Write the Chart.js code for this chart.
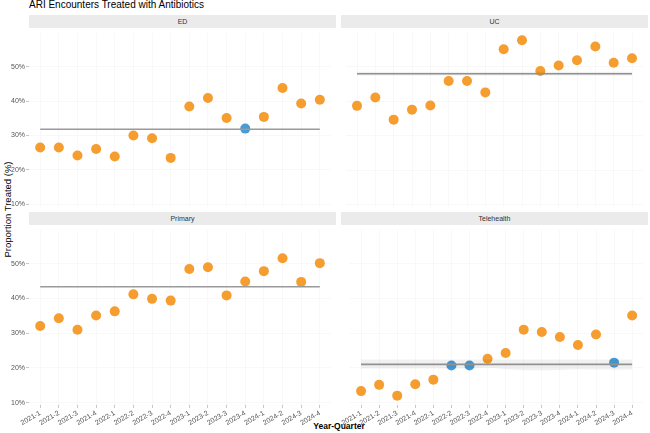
<!DOCTYPE html>
<html>
<head>
<meta charset="utf-8">
<script src="https://cdn.jsdelivr.net/npm/chart.js@4.4.1/dist/chart.umd.min.js"></script>
<style>
  body { margin: 0; width: 650px; height: 433px; position: relative; background: #fff; overflow: hidden;
         font-family: 'Liberation Sans', Arial, sans-serif; }
  canvas { position: absolute; }
  .title { position: absolute; left: 29px; top: -1px; font-size: 10px; color: #000; white-space: nowrap; }
  .strip { position: absolute; height: 13px; width: 307px; background: #ebebeb; color: #333;
           font-size: 7px; line-height: 13px; text-align: center; }
  .ytitle { position: absolute; left: -93px; top: 204px; width: 200px; text-align: center;
            font-size: 9.5px; color: #000; transform: rotate(-90deg); white-space: nowrap; }
  .xtitle { position: absolute; left: 239px; top: 421px; width: 200px; text-align: center;
            font-size: 8.5px; font-weight: bold; color: #000; }
</style>
</head>
<body>
<div class="title">ARI Encounters Treated with Antibiotics</div>
<div class="strip" style="left:29px;top:15px">ED</div>
<div class="strip" style="left:341px;top:15px">UC</div>
<div class="strip" style="left:29px;top:212px">Primary</div>
<div class="strip" style="left:341px;top:212px">Telehealth</div>
<div class="ytitle">Proportion Treated (%)</div>
<div class="xtitle">Year-Quarter</div>

<canvas id="edChart" width="336" height="184" style="left:0;top:28px"></canvas>
<canvas id="ucChart" width="307" height="184" style="left:341px;top:28px"></canvas>
<canvas id="primaryChart" width="336" height="208" style="left:0;top:225px"></canvas>
<canvas id="teleChart" width="307" height="208" style="left:341px;top:225px"></canvas>

<script>
'use strict';

const quarters = ['2021-1', '2021-2', '2021-3', '2021-4', '2022-1', '2022-2', '2022-3', '2022-4',
  '2023-1', '2023-2', '2023-3', '2023-4', '2024-1', '2024-2', '2024-3', '2024-4'];
const yTicks = [10, 20, 30, 40, 50];

// proportion treated (%) per quarter
const edValues = [26.5, 26.5, 24.2, 26.1, 23.9, 30.0, 29.2, 23.5, 38.4, 40.9, 35.1, 32.0, 35.4, 43.8, 39.3, 40.4];
const ucValues = [38.6, 41.0, 34.6, 37.5, 38.7, 45.8, 45.8, 42.5, 55.0, 57.6, 48.7, 50.3, 51.8, 55.8, 51.1, 52.4];
const primaryValues = [32.1, 34.3, 31.0, 35.1, 36.3, 41.2, 39.9, 39.4, 48.5, 49.0, 40.9, 44.9, 47.9, 51.6, 44.8, 50.2];
const teleValues = [13.3, 15.1, 12.0, 15.3, 16.6, 20.7, 20.7, 22.6, 24.3, 31.0, 30.3, 28.9, 26.6, 29.6, 21.5, 35.1];

// 1 = point shown in blue
const edFlags = [0, 0, 0, 0, 0, 0, 0, 0, 0, 0, 0, 1, 0, 0, 0, 0];
const ucFlags = [0, 0, 0, 0, 0, 0, 0, 0, 0, 0, 0, 0, 0, 0, 0, 0];
const primaryFlags = [0, 0, 0, 0, 0, 0, 0, 0, 0, 0, 0, 0, 0, 0, 0, 0];
const teleFlags = [0, 0, 0, 0, 0, 1, 1, 0, 0, 0, 0, 0, 0, 0, 1, 0];

// reference line for each setting
const edCenter = 31.8;
const ucCenter = 47.9;
const primaryCenter = 43.4;
const teleCenter = 21.0;

// grey band around the reference line
const ucBandLow = [47.4, 47.4, 47.4, 47.4, 47.4, 47.4, 47.4, 47.4, 47.4, 47.4, 47.4, 47.4, 47.4, 47.4, 47.4, 47.4];
const ucBandHigh = [48.5, 48.5, 48.5, 48.5, 48.5, 48.5, 48.5, 48.5, 48.5, 48.5, 48.5, 48.5, 48.5, 48.5, 48.5, 48.5];
const teleBandLow = [19.8, 19.8, 19.8, 19.8, 19.8, 19.8, 19.8, 20.0, 19.6, 19.3, 19.3, 19.4, 19.6, 19.5, 19.4, 19.5];
const teleBandHigh = [22.4, 22.4, 22.4, 22.4, 22.4, 22.4, 22.4, 22.4, 22.4, 22.4, 22.4, 22.4, 22.4, 22.4, 22.4, 22.4];

const orange = '#f59d2e';
const blue = '#4a9bd5';
const gridColor = '#f8f8f8';

function makePanel(canvasId, values, flags, center, bandLow, bandHigh, showY, showX) {
  const datasets = [];
  if (bandLow) {
    datasets.push({
      type: 'line', data: bandLow.map((v, i) => ({ x: i, y: v })),
      borderWidth: 0, pointRadius: 0, tension: 0.2, fill: false
    });
    datasets.push({
      type: 'line', data: bandHigh.map((v, i) => ({ x: i, y: v })),
      borderWidth: 0, pointRadius: 0, tension: 0.2,
      fill: '-1', backgroundColor: 'rgba(0,0,0,0.055)'
    });
  }
  datasets.push({
    type: 'line',
    data: [{ x: 0, y: center }, { x: quarters.length - 1, y: center }],
    borderColor: '#9a9a9a', borderWidth: 1.6, pointRadius: 0, fill: false
  });
  datasets.push({
    type: 'scatter',
    data: values.map((v, i) => ({ x: i, y: v })),
    pointRadius: 5, pointHoverRadius: 5, borderWidth: 0,
    backgroundColor: flags.map(f => f ? blue : orange)
  });

  return new Chart(document.getElementById(canvasId), {
    type: 'scatter',
    data: { datasets: datasets },
    options: {
      responsive: false,
      animation: false,
      layout: { padding: 0 },
      plugins: { legend: { display: false }, tooltip: { enabled: false } },
      scales: {
        x: {
          type: 'linear', min: -0.6, max: quarters.length - 0.4,
          afterBuildTicks: axis => { axis.ticks = quarters.map((q, i) => ({ value: i })); },
          // top row keeps a small strip below the panel so the 10% label is not cut off
          afterFit: axis => { axis.height = showX ? 28 : 4; },
          grid: { color: gridColor, drawTicks: showX, tickLength: 3, tickColor: '#c8c8c8' },
          border: { display: false },
          ticks: {
            display: showX, autoSkip: false, minRotation: 30, maxRotation: 30, padding: 1,
            color: '#555', font: { size: 7, family: 'Liberation Sans' },
            callback: v => quarters[v]
          }
        },
        y: {
          min: 9.3, max: 59.7,
          afterBuildTicks: axis => { axis.ticks = yTicks.map(v => ({ value: v })); },
          afterFit: axis => { axis.width = showY ? 29 : 0; },
          grid: { color: gridColor, drawTicks: showY, tickLength: 3, tickColor: '#c8c8c8' },
          border: { display: false },
          ticks: {
            display: showY, padding: 1,
            color: '#555', font: { size: 7, family: 'Liberation Sans' },
            callback: v => v + '%'
          }
        }
      }
    }
  });
}

makePanel('edChart', edValues, edFlags, edCenter, null, null, true, false);
makePanel('ucChart', ucValues, ucFlags, ucCenter, ucBandLow, ucBandHigh, false, false);
makePanel('primaryChart', primaryValues, primaryFlags, primaryCenter, null, null, true, true);
makePanel('teleChart', teleValues, teleFlags, teleCenter, teleBandLow, teleBandHigh, false, true);
</script>
</body>
</html>
